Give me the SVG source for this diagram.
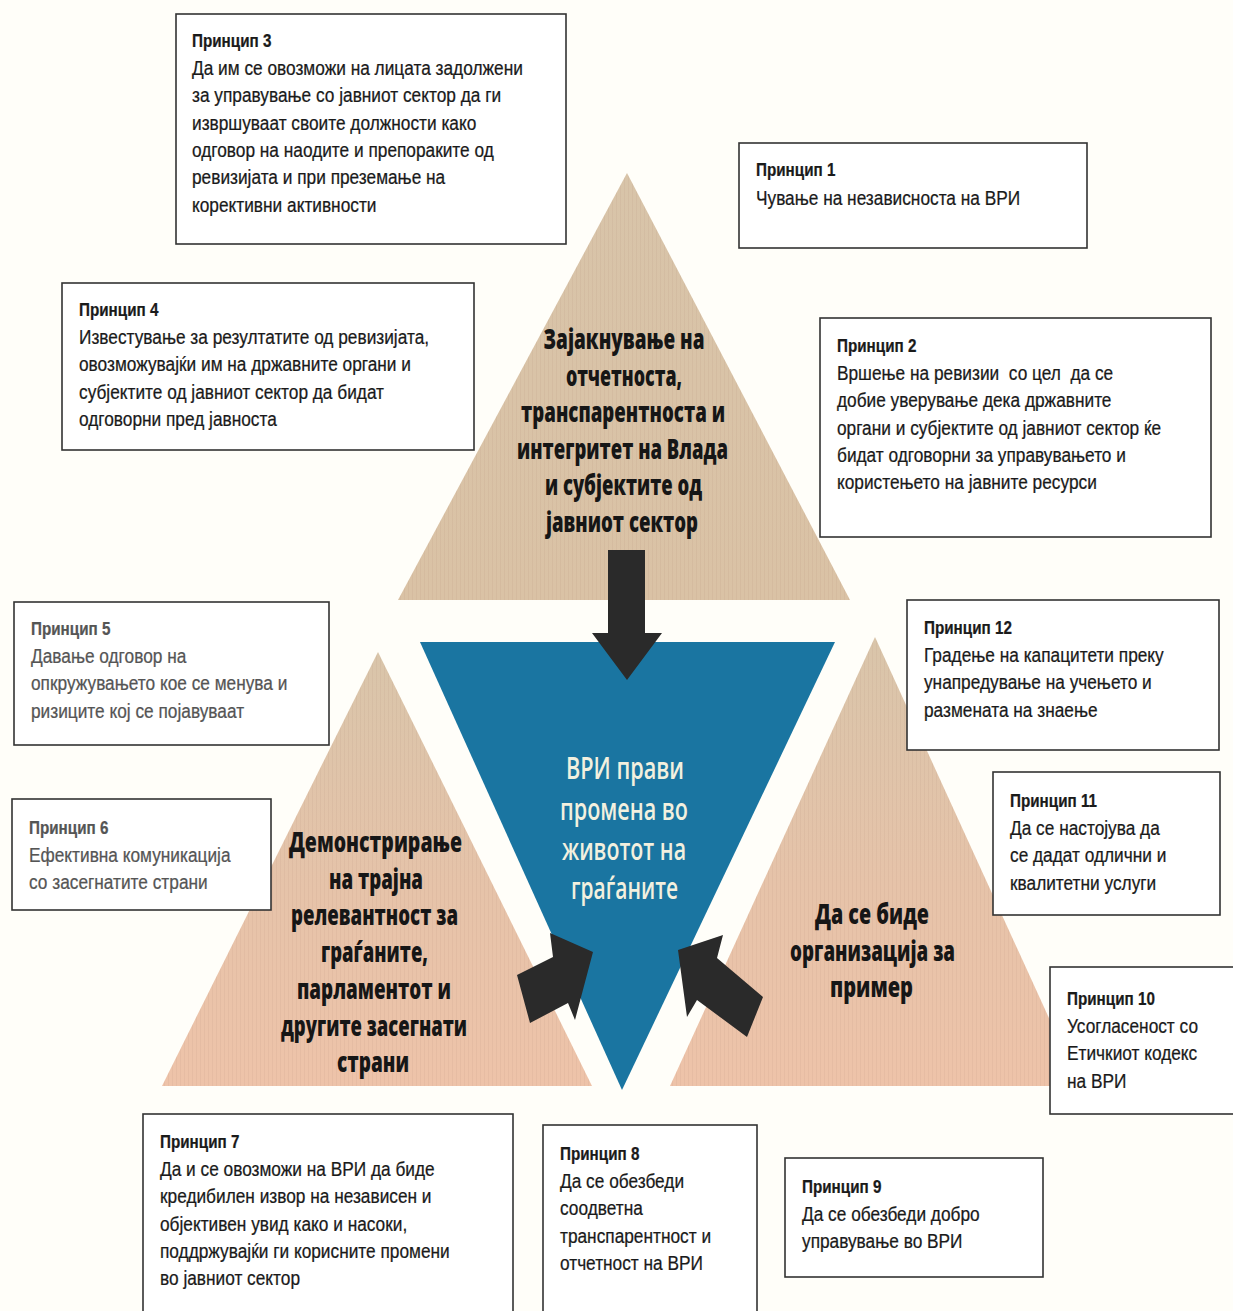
<svg xmlns="http://www.w3.org/2000/svg" width="1233" height="1311" viewBox="0 0 1233 1311">
<defs>
<linearGradient id="gTop" x1="0" y1="0" x2="0" y2="1"><stop offset="0" stop-color="#d8c4a9"/><stop offset="1" stop-color="#dac2a5"/></linearGradient>
<linearGradient id="gBot" x1="0" y1="0" x2="0" y2="1"><stop offset="0" stop-color="#d9c5aa"/><stop offset="0.55" stop-color="#e6c3a9"/><stop offset="1" stop-color="#eec3a9"/></linearGradient>
<pattern id="stripes" width="4" height="10" patternUnits="userSpaceOnUse"><rect x="0" y="0" width="1" height="10" fill="#8a6a50" fill-opacity="0.07"/></pattern>
<style>
.box{fill:#ffffff;stroke:#333;stroke-width:1.6}
.t{font-family:"Liberation Sans Narrow","Arial Narrow","Liberation Sans",sans-serif;font-size:21px;fill:#1a1a1a;stroke:#1a1a1a;stroke-width:0.25}
.h{font-weight:bold;font-size:18.5px}
.g{fill:#555;stroke:#555}
.c{font-family:"Open Sans","Noto Sans",sans-serif;font-weight:800;font-size:29px;fill:#161616;text-anchor:middle}
.w{font-family:"Open Sans","Noto Sans",sans-serif;font-weight:600;font-size:30px;fill:#f2f0df;text-anchor:middle}
.arr{fill:#2a2a2a}
</style>
</defs>
<rect width="1233" height="1311" fill="#fffef9"/>

<g id="tri-top">
<polygon points="627,173 398,600 850,600" fill="url(#gTop)"/>
<polygon points="627,173 398,600 850,600" fill="url(#stripes)"/>
<text class="c"><tspan x="624" y="349" textLength="161" lengthAdjust="spacingAndGlyphs">Зајакнување на</tspan></text>
<text class="c"><tspan x="624" y="385.6" textLength="116" lengthAdjust="spacingAndGlyphs">отчетноста,</tspan></text>
<text class="c"><tspan x="623" y="422.2" textLength="204" lengthAdjust="spacingAndGlyphs">транспарентноста и</tspan></text>
<text class="c"><tspan x="622.5" y="458.8" textLength="211" lengthAdjust="spacingAndGlyphs">интегритет на Влада</tspan></text>
<text class="c"><tspan x="623.5" y="495.4" textLength="157" lengthAdjust="spacingAndGlyphs">и субјектите од</tspan></text>
<text class="c"><tspan x="622" y="532" textLength="152" lengthAdjust="spacingAndGlyphs">јавниот сектор</tspan></text>
</g>

<g id="tri-left">
<polygon points="378,652 162,1086 592,1086" fill="url(#gBot)"/>
<polygon points="378,652 162,1086 592,1086" fill="url(#stripes)"/>
<text class="c"><tspan x="375.5" y="852" textLength="173" lengthAdjust="spacingAndGlyphs">Демонстрирање</tspan></text>
<text class="c"><tspan x="376" y="889" textLength="94" lengthAdjust="spacingAndGlyphs">на трајна</tspan></text>
<text class="c"><tspan x="374.5" y="925" textLength="167" lengthAdjust="spacingAndGlyphs">релевантност за</tspan></text>
<text class="c"><tspan x="374.5" y="962" textLength="107" lengthAdjust="spacingAndGlyphs">граѓаните,</tspan></text>
<text class="c"><tspan x="374" y="999" textLength="154" lengthAdjust="spacingAndGlyphs">парламентот и</tspan></text>
<text class="c"><tspan x="374" y="1036" textLength="186" lengthAdjust="spacingAndGlyphs">другите засегнати</tspan></text>
<text class="c"><tspan x="373" y="1072" textLength="72" lengthAdjust="spacingAndGlyphs">страни</tspan></text>
</g>

<g id="tri-right">
<polygon points="875,637 670,1086 1080,1086" fill="url(#gBot)"/>
<polygon points="875,637 670,1086 1080,1086" fill="url(#stripes)"/>
<text class="c"><tspan x="872" y="924" textLength="114" lengthAdjust="spacingAndGlyphs">Да се биде</tspan></text>
<text class="c"><tspan x="872.5" y="960.5" textLength="165" lengthAdjust="spacingAndGlyphs">организација за</tspan></text>
<text class="c"><tspan x="871.5" y="997" textLength="83" lengthAdjust="spacingAndGlyphs">пример</tspan></text>
</g>

<g id="tri-center">
<polygon points="420,642 835,642 622,1090" fill="#1a75a1"/>
<text class="w"><tspan x="625" y="779" textLength="118" lengthAdjust="spacingAndGlyphs">ВРИ прави</tspan></text>
<text class="w"><tspan x="624" y="820" textLength="128" lengthAdjust="spacingAndGlyphs">промена во</tspan></text>
<text class="w"><tspan x="624" y="860" textLength="124" lengthAdjust="spacingAndGlyphs">животот на</tspan></text>
<text class="w"><tspan x="624.5" y="899" textLength="107" lengthAdjust="spacingAndGlyphs">граѓаните</tspan></text>
</g>

<g id="connectors">
<polygon class="arr" points="608,550 645,550 645,633 662,633 627,680 592,633 608,633"/>
<polygon class="arr" points="517,975 553,957 550,933 593,952 575,1020 568,1003 530,1023"/>
<polygon class="arr" points="678,950 723,935 717,958 763,997 747,1037 697,1000 687,1017"/>
</g>

<g id="p3">
<rect class="box" x="176" y="14" width="390" height="230"/>
<g transform="matrix(0.823 0 0 1 33.98 0)">
<text class="t h" x="192" y="47">Принцип 3</text>
<text class="t" x="192" y="75">Да им се овозможи на лицата задолжени</text>
<text class="t" x="192" y="102.5">за управување со јавниот сектор да ги</text>
<text class="t" x="192" y="130">извршуваат своите должности како</text>
<text class="t" x="192" y="157">одговор на наодите и препораките од</text>
<text class="t" x="192" y="184.5">ревизијата и при преземање на</text>
<text class="t" x="192" y="212">корективни активности</text>
</g>
</g>

<g id="p1">
<rect class="box" x="739" y="143" width="348" height="105"/>
<g transform="matrix(0.823 0 0 1 133.81 0)">
<text class="t h" x="756" y="176">Принцип 1</text>
<text class="t" x="756" y="205">Чување на независноста на ВРИ</text>
</g>
</g>

<g id="p4">
<rect class="box" x="62" y="283" width="412" height="167"/>
<g transform="matrix(0.823 0 0 1 13.98 0)">
<text class="t h" x="79" y="316">Принцип 4</text>
<text class="t" x="79" y="344">Известување за резултатите од ревизијата,</text>
<text class="t" x="79" y="371.5">овозможувајќи им на државните органи и</text>
<text class="t" x="79" y="399">субјектите од јавниот сектор да бидат</text>
<text class="t" x="79" y="426">одговорни пред јавноста</text>
</g>
</g>

<g id="p2">
<rect class="box" x="820" y="318" width="391" height="219"/>
<g transform="matrix(0.823 0 0 1 148.15 0)">
<text class="t h" x="837" y="352">Принцип 2</text>
<text class="t" x="837" y="380" style="white-space:pre">Вршење на ревизии  со цел  да се</text>
<text class="t" x="837" y="407.5">добие уверување дека државните</text>
<text class="t" x="837" y="435">органи и субјектите од јавниот сектор ќе</text>
<text class="t" x="837" y="462">бидат одговорни за управувањето и</text>
<text class="t" x="837" y="489.5">користењето на јавните ресурси</text>
</g>
</g>

<g id="p5">
<rect class="box" x="14" y="602" width="315" height="143"/>
<g transform="matrix(0.823 0 0 1 5.49 0)">
<text class="t h g" x="31" y="635">Принцип 5</text>
<text class="t g" x="31" y="663">Давање одговор на</text>
<text class="t g" x="31" y="690.5">опкружувањето кое се менува и</text>
<text class="t g" x="31" y="718">ризиците кој се појавуваат</text>
</g>
</g>

<g id="p6">
<rect class="box" x="12" y="799" width="259" height="111"/>
<g transform="matrix(0.823 0 0 1 5.13 0)">
<text class="t h g" x="29" y="834">Принцип 6</text>
<text class="t g" x="29" y="862">Ефективна комуникација</text>
<text class="t g" x="29" y="889.5">со засегнатите страни</text>
</g>
</g>

<g id="p12">
<rect class="box" x="907" y="600" width="312" height="150"/>
<g transform="matrix(0.823 0 0 1 163.55 0)">
<text class="t h" x="924" y="634">Принцип 12</text>
<text class="t" x="924" y="662">Градење на капацитети преку</text>
<text class="t" x="924" y="689.5">унапредување на учењето и</text>
<text class="t" x="924" y="717">размената на знаење</text>
</g>
</g>

<g id="p11">
<rect class="box" x="993" y="772" width="227" height="143"/>
<g transform="matrix(0.823 0 0 1 178.77 0)">
<text class="t h" x="1010" y="807">Принцип 11</text>
<text class="t" x="1010" y="835">Да се настојува да</text>
<text class="t" x="1010" y="862.5">се дадат одлични и</text>
<text class="t" x="1010" y="890">квалитетни услуги</text>
</g>
</g>

<g id="p10">
<rect class="box" x="1050" y="967" width="200" height="147"/>
<g transform="matrix(0.823 0 0 1 188.86 0)">
<text class="t h" x="1067" y="1005">Принцип 10</text>
<text class="t" x="1067" y="1033">Усогласеност со</text>
<text class="t" x="1067" y="1060.5">Етичкиот кодекс</text>
<text class="t" x="1067" y="1088">на ВРИ</text>
</g>
</g>

<g id="p7">
<rect class="box" x="143" y="1114" width="370" height="210"/>
<g transform="matrix(0.823 0 0 1 28.32 0)">
<text class="t h" x="160" y="1148">Принцип 7</text>
<text class="t" x="160" y="1176">Да и се овозможи на ВРИ да биде</text>
<text class="t" x="160" y="1203.5">кредибилен извор на независен и</text>
<text class="t" x="160" y="1231">објективен увид како и насоки,</text>
<text class="t" x="160" y="1258">поддржувајќи ги корисните промени</text>
<text class="t" x="160" y="1285.5">во јавниот сектор</text>
</g>
</g>

<g id="p8">
<rect class="box" x="543" y="1125" width="214" height="200"/>
<g transform="matrix(0.823 0 0 1 99.12 0)">
<text class="t h" x="560" y="1160">Принцип 8</text>
<text class="t" x="560" y="1188">Да се обезбеди</text>
<text class="t" x="560" y="1215.5">соодветна</text>
<text class="t" x="560" y="1243">транспарентност и</text>
<text class="t" x="560" y="1270">отчетност на ВРИ</text>
</g>
</g>

<g id="p9">
<rect class="box" x="785" y="1158" width="258" height="119"/>
<g transform="matrix(0.823 0 0 1 141.95 0)">
<text class="t h" x="802" y="1193">Принцип 9</text>
<text class="t" x="802" y="1221">Да се обезбеди добро</text>
<text class="t" x="802" y="1248.5">управување во ВРИ</text>
</g>
</g>
</svg>
